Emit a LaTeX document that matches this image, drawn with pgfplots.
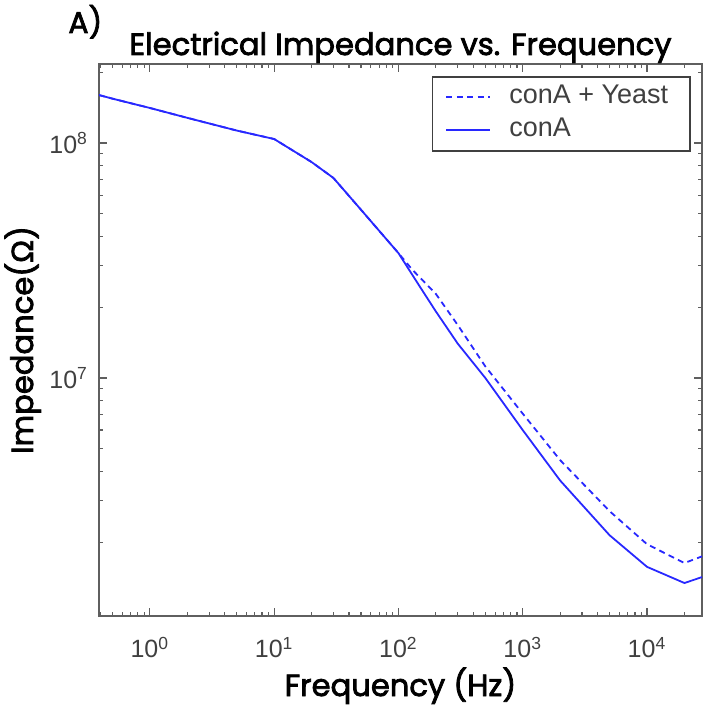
\documentclass[border=0pt]{standalone}
\usepackage{fontspec}
\setmainfont{Poppins}
\newfontfamily\tfont{Poppins}[FakeBold=2.5]
\newfontfamily\lib{Liberation Sans}
\newfontfamily\libb{Liberation Sans}[FakeBold=2.5]
\usepackage{pgfplots}
\pgfplotsset{compat=1.18}
\definecolor{lineblue}{RGB}{40,40,255}
\definecolor{axgray}{RGB}{95,95,95}
\begin{document}
\begin{tikzpicture}
\begin{axis}[
  name=ax,
  scale only axis,
  width=301.5pt, height=276pt,
  xmode=log, ymode=log,
  xmin=0.39, xmax=27700,
  ymin=9.7e5, ymax=2.17e8,
  axis line style={axgray, line width=1pt},
  every tick/.style={axgray, line width=0.6pt},
  tick align=inside,
  major tick length=4pt,
  minor tick length=2pt,
  xtick={1,10,100,1000,10000},
  xticklabels={10\textsuperscript{0},10\textsuperscript{1},10\textsuperscript{2},10\textsuperscript{3},10\textsuperscript{4}},
  minor xtick={0.4,0.5,0.6,0.7,0.8,0.9,2,3,4,5,6,7,8,9,20,30,40,50,60,70,80,90,200,300,400,500,600,700,800,900,2000,3000,4000,5000,6000,7000,8000,9000,20000},
  ytick={1e7,1e8},
  yticklabels={10\textsuperscript{7},10\textsuperscript{8}},
  minor ytick={2e6,3e6,4e6,5e6,6e6,7e6,8e6,9e6,2e7,3e7,4e7,5e7,6e7,7e7,8e7,9e7,2e8},
  ticklabel style={font=\lib\fontsize{12.5}{14}\selectfont, text=black!75},
  xticklabel style={yshift=-7pt},
  yticklabel style={xshift=-2pt},
  legend style={at={(1,1)}, anchor=north east, xshift=-5.5pt, yshift=-6pt,
    draw=black!75, line width=0.8pt, font=\lib\fontsize{13.5}{15}\selectfont,
    text=black!75, inner xsep=6.5pt, inner ysep=4pt, row sep=4pt, column sep=9pt,
    nodes={inner sep=0pt, text height=9.5pt, text depth=3pt}},
  legend cell align=left,
  legend image code/.code={\draw[#1] (0pt,0pt) -- (22pt,0pt);},
]
\addplot[lineblue, line width=0.9pt, dash pattern=on 3pt off 2.2pt] coordinates {
(0.39,1.60e8) (0.5,1.545e8) (1,1.41e8) (2,1.28e8) (5,1.13e8) (10,1.04e8)
(20,8.3e7) (30,7.1e7) (50,5.2e7) (70,4.23e7) (100,3.4e7) (130,2.88e7)
(200,2.28e7) (300,1.68e7) (500,1.12e7) (1000,7.05e6) (2000,4.47e6)
(5000,2.71e6) (10000,1.96e6) (20000,1.63e6) (27700,1.74e6)
};
\addlegendentry{conA + Yeast\hspace*{4.5pt}}
\addplot[lineblue, line width=0.9pt] coordinates {
(0.39,1.60e8) (0.5,1.545e8) (1,1.41e8) (2,1.28e8) (5,1.13e8) (10,1.04e8)
(20,8.3e7) (30,7.1e7) (50,5.2e7) (70,4.23e7) (100,3.4e7) (150,2.43e7)
(200,1.92e7) (300,1.40e7) (500,1.0e7) (1000,6.0e6) (2000,3.66e6)
(5000,2.14e6) (10000,1.57e6) (20000,1.34e6) (27700,1.42e6)
};
\addlegendentry{conA}
\end{axis}
\node[anchor=base, inner sep=0pt, font=\tfont\fontsize{15.3}{17}\selectfont] at ([yshift=4.5pt]ax.north) {Electrical Impedance vs. Frequency};
\node[anchor=base west, inner sep=0pt, font=\tfont\fontsize{15}{17}\selectfont] at ([xshift=-15.5pt,yshift=15.5pt]ax.north west) {A)};
\node[anchor=base, inner sep=0pt, font=\tfont\fontsize{15.3}{17}\selectfont] at ([yshift=-40pt]ax.south) {Frequency (Hz)};
\node[anchor=base, inner sep=0pt, rotate=90, font=\tfont\fontsize{15.3}{17}\selectfont] at ([xshift=-33pt]ax.west) {Impedance({\libb Ω})};
\pgfresetboundingbox
\path[use as bounding box] ([xshift=-49.5pt,yshift=-47pt]ax.south west) rectangle ([xshift=0.5pt,yshift=32pt]ax.north east);
\end{tikzpicture}
\end{document}
